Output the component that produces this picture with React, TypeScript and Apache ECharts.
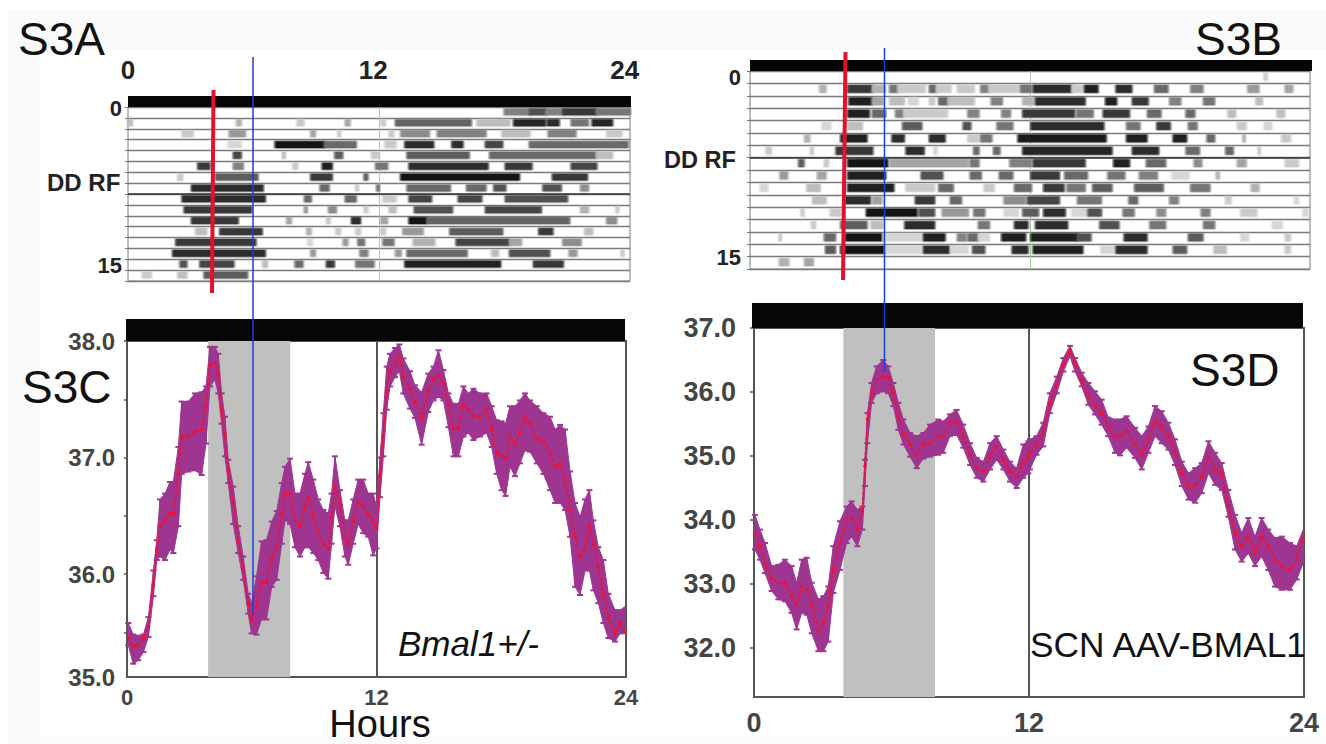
import React, { useEffect, useRef } from "react";
import * as echarts from "echarts";

// ---------- temperature traces (hour, mean, upper, lower) ----------
const hoursC = [0.06,0.30,0.54,0.79,1.03,1.27,1.43,1.59,1.83,2.07,2.23,2.47,2.63,2.95,3.27,3.59,3.80,3.99,4.23,4.39,4.55,4.71,4.87,5.11,5.35,5.59,5.83,5.99,6.23,6.47,6.71,6.96,7.20,7.44,7.60,7.84,8.08,8.32,8.56,8.72,8.96,9.20,9.44,9.68,9.84,10.0,10.24,10.48,10.64,10.88,11.12,11.36,11.60,11.84,12.0,12.17,12.33,12.49,12.65,12.89,13.10,13.29,13.61,13.85,14.17,14.49,14.74,14.98,15.22,15.46,15.70,15.94,16.18,16.42,16.66,16.98,17.30,17.54,17.78,18.02,18.21,18.42,18.66,18.90,19.14,19.38,19.71,20.03,20.35,20.59,20.83,21.07,21.31,21.55,21.79,22.03,22.24,22.43,22.67,22.91,23.15,23.47,23.71,23.95];
const meanC = [35.45,35.38,35.39,35.45,35.55,35.91,36.21,36.41,36.46,36.52,36.52,36.86,37.18,37.18,37.22,37.24,37.44,37.79,37.81,37.72,37.41,37.18,36.89,36.61,36.29,36.05,35.75,35.61,35.72,35.93,35.93,36.13,36.23,36.51,36.69,36.69,36.46,36.41,36.58,36.66,36.49,36.35,36.26,36.22,36.49,36.76,36.61,36.32,36.26,36.46,36.62,36.58,36.51,36.46,36.39,36.85,37.18,37.58,37.74,37.81,37.87,37.69,37.59,37.48,37.34,37.57,37.67,37.71,37.64,37.45,37.25,37.25,37.45,37.41,37.36,37.35,37.41,37.24,37.04,37.01,36.99,37.18,37.12,37.21,37.34,37.29,37.16,37.14,37.04,36.92,36.95,36.81,36.55,36.32,36.15,36.21,36.41,36.26,36.06,35.83,35.63,35.49,35.58,35.51];
const upperC = [35.58,35.48,35.47,35.48,35.63,36.03,36.29,36.64,36.69,36.79,36.79,37.09,37.48,37.48,37.55,37.56,37.61,37.95,37.95,37.89,37.55,37.35,36.98,36.75,36.41,36.15,35.83,35.75,35.98,36.28,36.29,36.45,36.54,36.78,36.92,36.99,36.69,36.69,36.86,36.96,36.81,36.64,36.55,36.52,36.69,37.01,36.72,36.46,36.46,36.64,36.81,36.81,36.69,36.69,36.58,37.0,37.38,37.78,37.89,37.94,37.97,37.85,37.74,37.62,37.56,37.72,37.78,37.92,37.75,37.55,37.46,37.46,37.61,37.55,37.59,37.55,37.55,37.44,37.32,37.31,37.29,37.44,37.44,37.49,37.55,37.49,37.44,37.38,37.35,37.24,37.28,37.24,36.88,36.61,36.49,36.64,36.72,36.46,36.23,36.12,35.83,35.69,35.69,35.72];
const lowerC = [35.39,35.23,35.26,35.33,35.46,35.81,36.12,36.15,36.12,36.21,36.18,36.41,36.86,36.88,36.89,36.85,37.12,37.61,37.67,37.55,37.29,37.01,36.78,36.43,36.18,35.95,35.66,35.49,35.48,35.61,35.61,35.89,35.95,36.26,36.46,36.43,36.23,36.15,36.23,36.23,36.18,36.12,36.01,35.96,36.26,36.58,36.41,36.15,36.08,36.26,36.43,36.35,36.32,36.16,36.22,36.66,37.01,37.41,37.61,37.69,37.74,37.55,37.42,37.34,37.11,37.39,37.49,37.52,37.49,37.26,37.01,37.01,37.18,37.21,37.15,37.18,37.21,37.09,36.86,36.72,36.67,36.92,36.84,36.95,37.06,37.05,36.95,36.86,36.72,36.61,36.61,36.55,36.32,35.89,35.82,36.03,36.03,35.86,35.75,35.58,35.45,35.42,35.49,35.49];

const hoursD = [0.04,0.26,0.48,0.77,1.06,1.35,1.64,1.86,2.08,2.30,2.52,2.81,3.03,3.24,3.46,3.75,4.04,4.26,4.51,4.73,4.84,4.95,5.13,5.35,5.64,5.86,6.08,6.30,6.52,6.81,7.10,7.39,7.68,8.04,8.26,8.55,8.84,9.13,9.43,9.72,10.01,10.30,10.59,10.88,11.17,11.46,11.75,11.97,12.04,12.33,12.62,12.91,13.21,13.50,13.79,14.01,14.30,14.59,14.88,15.17,15.46,15.75,15.97,16.26,16.63,16.92,17.21,17.50,17.79,18.08,18.37,18.67,18.96,19.25,19.54,19.83,20.12,20.41,20.70,20.99,21.28,21.57,21.86,22.15,22.44,22.73,23.03,23.39,23.68,23.97];
const meanD = [33.80,33.59,33.33,33.09,33.02,33.02,32.81,32.68,32.96,32.91,32.68,32.26,32.39,32.65,33.22,33.64,34.00,34.03,33.85,34.14,34.84,35.57,35.98,36.19,36.24,36.22,35.98,35.62,35.36,35.18,35.02,35.18,35.20,35.31,35.31,35.52,35.54,35.31,35.02,34.81,34.76,34.99,35.15,34.94,34.76,34.68,34.89,34.99,35.05,35.18,35.33,35.83,36.11,36.43,36.65,36.45,36.17,35.93,35.80,35.67,35.46,35.30,35.31,35.39,35.18,35.02,35.26,35.54,35.46,35.31,35.07,34.73,34.50,34.55,34.68,34.99,34.79,34.73,34.21,33.80,33.59,33.74,33.48,33.74,33.59,33.38,33.28,33.22,33.38,33.72];
const upperD = [34.08,33.85,33.64,33.28,33.30,33.38,33.28,33.02,33.38,33.41,33.02,32.76,32.81,32.96,33.59,33.98,34.21,34.29,34.16,34.21,34.94,35.67,36.14,36.40,36.50,36.40,36.14,35.83,35.57,35.36,35.31,35.36,35.49,35.57,35.54,35.65,35.72,35.49,35.20,34.97,34.91,35.20,35.31,35.10,34.91,34.81,35.18,35.23,35.26,35.31,35.52,35.98,36.24,36.53,36.72,36.53,36.30,36.14,36.01,35.88,35.60,35.57,35.57,35.62,35.44,35.31,35.46,35.78,35.70,35.52,35.26,34.91,34.73,34.81,34.89,35.23,35.05,34.89,34.47,34.08,33.80,34.03,33.74,34.03,33.85,33.72,33.74,33.64,33.59,33.85];
const lowerD = [33.54,33.38,33.17,32.89,32.76,32.73,32.55,32.29,32.55,32.52,32.23,31.95,31.95,32.10,32.86,33.22,33.64,33.74,33.59,33.85,34.53,35.20,35.83,35.98,36.01,35.98,35.78,35.41,35.18,34.99,34.81,34.96,34.99,35.02,35.05,35.31,35.33,35.13,34.86,34.66,34.60,34.79,34.94,34.79,34.60,34.50,34.66,34.73,34.79,35.02,35.15,35.67,35.98,36.32,36.56,36.32,36.09,35.80,35.65,35.49,35.31,35.05,35.01,35.13,34.97,34.79,35.05,35.31,35.20,35.10,34.86,34.53,34.32,34.27,34.42,34.73,34.55,34.47,34.05,33.54,33.35,33.48,33.28,33.43,33.22,32.96,32.91,32.91,33.07,33.33];

// ---------- actogram bouts: per row, [start hour, end hour, darkness] ----------
const actoA: number[][][] = [
  [[18,19.2,.5],[19.2,20,.7],[20,20.8,.5],[20.8,22.4,.8],[22.4,24,.55]],
  [[0,.2,.25],[5.2,5.4,.3],[8.1,8.4,.2],[10.4,10.6,.35],[12.1,12.3,.2],[12.8,16.4,.62],[16.7,18.25,.25],[18.45,19.95,.88],[20.05,20.6,.85],[21.2,22,.55],[22.2,23.15,.88]],
  [[2.6,3.1,.2],[4.85,5.6,.4],[8.75,8.95,.35],[10.05,10.15,.2],[12.5,12.7,.2],[13.05,14.4,.45],[14.8,17.1,.5],[17.9,19.2,.25],[20.1,21.4,.5],[22.9,23.6,.2]],
  [[4.8,5.4,.15],[7.05,9.4,.95],[9.4,10.9,.6],[12.3,12.8,.2],[13.25,14.6,.85],[15.5,16,.85],[17.1,17.9,.75],[19.2,23.9,.6]],
  [[5.05,5.4,.75],[7.4,7.5,.25],[9.9,10.25,.65],[11.65,12,.2],[13.35,16.3,.65],[17.3,22.4,.6],[22.4,23.15,.25]],
  [[3.35,3.9,.8],[5.05,5.5,.5],[7.9,8.1,.2],[9.3,9.75,.9],[11.85,12.4,.55],[13.45,17.2,.85],[18.05,19.3,.8],[21.2,22.4,.75]],
  [[2.4,2.6,.2],[4.2,6.2,.65],[8.75,9.75,.8],[11.3,11.45,.65],[13.05,18.7,.95],[20.3,21.95,.8]],
  [[3.05,6.45,.85],[9.2,9.6,.6],[10.9,11,.2],[11.9,12,.55],[13.35,15.4,.6],[16.2,17.1,.6],[17.5,18.05,.7],[19.85,20.7,.7],[21.65,22,.45]],
  [[2.6,6.55,.85],[8.45,8.75,.6],[10.4,10.9,.6],[12.2,12.8,.2],[13.45,14.5,.75],[15.8,16.9,.75],[18.05,21,.7]],
  [[2.7,5.9,.8],[8.45,8.55,.4],[9.6,9.95,.45],[11.3,11.45,.2],[12.5,12.8,.25],[13.7,15.5,.7],[17.1,19.75,.75],[21.65,22,.3],[23.35,23.45,.2]],
  [[3.05,5.25,.8],[7.6,7.8,.35],[9.5,9.65,.2],[10.7,11.1,.85],[12.1,12.4,.35],[13.45,14.3,.95],[14.3,21.1,.62],[22.9,23.35,.45]],
  [[3.25,3.75,.25],[4.4,6.4,.8],[8.55,8.75,.3],[9.95,10.15,.2],[10.9,11.1,.2],[12.1,12.3,.2],[13.15,14.1,.4],[15.4,17.9,.65],[19.65,20.3,.8],[21.85,22.2,.25]],
  [[2.3,6.1,.8],[8.6,8.8,.15],[10.3,10.5,.4],[11,11.3,.55],[12.2,12.7,.55],[13.65,14.65,.3],[15.7,18.25,.75],[18.25,18.8,.35],[20.8,21.65,.45]],
  [[2.15,6.55,.85],[8.75,8.95,.4],[11.1,11.45,.5],[12.8,13.05,.4],[13.35,16.2,.6],[17.4,17.7,.25],[18.25,20.15,.7],[21.1,21.45,.4],[23.6,23.7,.2]],
  [[2.5,2.8,.7],[3.45,5.05,.75],[6.45,6.65,.25],[8,8.35,.6],[9.5,9.85,.8],[10.9,11.75,.55],[13.25,17.8,.9],[19.4,20.8,.8]],
  [[.7,1.1,.2],[2.4,2.8,.25],[3.65,5.7,.65]],
];
const actoB: number[][][] = [
  [[22.05,22.15,.2]],
  [[3,3.25,.3],[4.2,5.25,.8],[5.25,5.8,.3],[6,6.35,.55],[6.35,7.5,.2],[7.7,8,.6],[8,8.6,.2],[8.9,9.6,.2],[9.9,10.25,.5],[10.25,11.5,.2],[11.6,12.05,.55],[12.15,13.8,.85],[13.8,14.25,.2],[14.35,14.9,.9],[15.7,16.35,.85],[17.35,17.9,.6],[18.9,19.4,.5],[21.35,21.8,.4],[22.95,23.25,.35]],
  [[4.25,5.25,.9],[5.25,5.7,.35],[6,6.6,.25],[6.8,7.2,.15],[7.7,7.9,.2],[8.1,8.5,.6],[8.5,9.6,.25],[10.35,10.8,.5],[11.7,12.15,.3],[12.25,14.35,.85],[15.25,15.7,.9],[16.4,17.05,.8],[18,18.45,.5],[19.45,19.9,.55],[21.7,21.95,.25]],
  [[4.2,5.1,.9],[5.25,5.8,.6],[6.25,6.6,.5],[6.6,8.45,.2],[9.35,9.8,.5],[10.8,11.15,.5],[11.7,13.9,.8],[14,14.7,.55],[15.15,16.25,.8],[17.05,17.6,.6],[18.7,19.05,.6],[20.5,20.8,.25],[22.6,22.9,.25]],
  [[3.1,3.45,.15],[4.2,4.8,.25],[6.55,7.35,.65],[9.15,9.45,.7],[10.6,11.25,.55],[12.05,15.15,.85],[16.15,16.7,.55],[17.45,18,.8],[18.8,19.15,.55],[20.9,21.25,.2],[22.05,22.35,.15]],
  [[2.35,2.55,.3],[3.9,5,.9],[6.1,6.6,.85],[7.7,8.35,.85],[9.35,9.8,.2],[9.9,10.35,.55],[11.5,15.25,.92],[16.15,17,.9],[18.15,18.7,.9],[19.6,19.9,.6],[21.15,21.2,.3],[22.8,23.15,.2]],
  [[.7,.9,.2],[2.6,2.7,.2],[3.7,5.25,.8],[6.7,7.45,.85],[7.9,8,.15],[9.6,9.8,.6],[10.45,10.7,.6],[11.7,15.5,.88],[16.4,17.5,.85],[18.7,19.25,.6],[20.4,20.7,.6],[21.8,21.85,.2]],
  [[2.1,2.3,.65],[3.2,3.35,.2],[4.2,5.9,.95],[6,9.35,.35],[9.45,9.8,.55],[11.15,12.05,.5],[12.15,14.35,.8],[15.6,16.25,.9],[17,17.8,.6],[19.05,19.35,.45],[20.9,21.25,.35],[22.95,23.5,.2]],
  [[1.3,1.6,.4],[2.9,3.25,.35],[4.2,5.8,.9],[7.35,8.25,.7],[9.45,9.9,.6],[10.7,11.25,.6],[12.05,13.25,.8],[13.5,14.45,.6],[15.35,16.05,.55],[16.7,17.45,.5],[18.1,18.8,.15],[20,20.1,.3]],
  [[.45,.75,.15],[2.45,3,.25],[4.2,6.15,.9],[6.7,7.9,.2],[8.1,8.7,.6],[10.05,10.45,.2],[11.35,12.05,.6],[12.6,13.45,.8],[13.6,14.35,.55],[14.7,15.5,.65],[16.5,17.7,.65],[18.9,19.7,.55],[21.5,21.8,.3]],
  [[2.7,3.25,.25],[4.1,5.15,.85],[5.25,5.65,.35],[7.1,7.9,.8],[8.6,9.05,.6],[10.9,11.8,.45],[11.9,13.25,.75],[14.05,15.05,.55],[16.25,16.6,.6],[18,18.35,.5],[20.4,20.6,.2],[23.35,23.5,.15]],
  [[2.2,2.3,.2],[3.45,3.9,.2],[5,7.15,.95],[7.25,7.9,.7],[8.25,9.35,.4],[9.6,10.05,.55],[10.9,11.5,.15],[11.7,12.35,.65],[12.6,13.5,.85],[13.8,14.45,.15],[14.5,15.05,.7],[16,16.45,.55],[17.45,17.8,.45],[19.35,19.7,.5],[21.05,21.7,.2],[23.7,23.9,.15]],
  [[2.65,2.8,.2],[3.9,5,.65],[5.2,5.7,.25],[6.65,7.9,.85],[9.8,10.25,.55],[11.35,11.9,.85],[12.25,13.6,.85],[15,15.8,.7],[17.15,17.8,.55],[19.45,19.9,.55],[22.4,22.8,.15]],
  [[1.27,1.32,.2],[3.2,3.65,.6],[4.1,5.7,.95],[5.7,7.35,.15],[7.45,8.35,.9],[8.9,9.25,.5],[9.35,9.8,.6],[9.8,10.25,.15],[10.8,11.8,.9],[12.05,14.05,.9],[14.05,14.6,.7],[16.05,17,.85],[18.8,19.4,.65],[21.05,21.35,.15],[22.95,23.15,.2]],
  [[3.25,3.65,.65],[3.9,5.8,.95],[5.8,7.35,.15],[7.45,8.55,.85],[8.6,9.35,.15],[9.55,10.05,.7],[11.25,11.9,.85],[12.15,14.25,.9],[15.05,15.6,.15],[15.7,17,.85],[18.15,18.7,.65],[19.9,20.4,.25],[22.95,23.15,.2]],
  [[1.27,1.65,.3],[2.35,2.7,.35]],
];

// ---------- axis labels and annotations ----------
const hourTicks = [0, 12, 24];
const topLabelValuesA = [0, 11.72, 23.75];
const rowLabelValuesA = [0.1, 14.6];
const rowLabelValuesB = [0.55, 15.05];
const rowLabels = ["0", "15"];
const yTicksC = [35.5, 36, 36.5, 37, 37.5, 38];
const yLabelValuesC = [35.116, 36, 37, 38];
const yLabelsC = ["35.0", "36.0", "37.0", "38.0"];
const yLabelValuesD = [32, 33, 34, 35, 36, 37];
const feedingC = [3.9, 7.85];
const feedingD = [3.9, 7.9];
const boldRowA = 8;
const boldRowB = 7;

const FONT = "Liberation Sans";
const PURPLE = "#9e3590";
const RED = "#f70f2a";

function App() {
  const ref = useRef<HTMLDivElement>(null);
  useEffect(() => {
    document.body.style.margin = "0";
    document.body.style.overflow = "hidden";
    const chart = echarts.init(ref.current!, null, { renderer: "svg" });

    const actoSeries = (rows: number[][][], idx: number, boldRow: number) => ({
      type: "custom",
      xAxisIndex: idx,
      yAxisIndex: idx,
      silent: true,
      z: 3,
      encode: { x: [1, 2], y: 0 },
      data: rows.flatMap((bouts, r) => bouts.map((b) => [r, b[0], b[1], b[2]])),
      renderItem: (_p: any, api: any) => {
        const r = api.value(0);
        const a = api.coord([api.value(1), r + 0.14]);
        const b = api.coord([api.value(2), r + 0.76]);
        const g = Math.round(255 * (1 - api.value(3)) * 0.95 + 8);
        const x = a[0] - 2.5;
        const w = b[0] - a[0] + 5;
        const e = Math.min(0.45, 3.5 / w);
        const fill = (al: number) => ({
          type: "linear", x: 0, y: 0, x2: 1, y2: 0,
          colorStops: [
            { offset: 0, color: `rgba(${g},${g},${g},0)` },
            { offset: e, color: `rgba(${g},${g},${g},${al})` },
            { offset: 1 - e, color: `rgba(${g},${g},${g},${al})` },
            { offset: 1, color: `rgba(${g},${g},${g},0)` },
          ],
        });
        return {
          type: "group",
          children: [
            { type: "rect", shape: { x, y: a[1] - 1, width: w, height: b[1] - a[1] + 2 }, style: { fill: fill(0.4) } },
            { type: "rect", shape: { x, y: a[1], width: w, height: b[1] - a[1] }, style: { fill: fill(1) } },
          ],
        };
      },
      markLine: {
        silent: true, symbol: "none", label: { show: false },
        lineStyle: { color: "#333", width: 1.5, type: "solid" },
        data: [{ yAxis: boldRow }],
      },
    });

    const feedingSeries = (range: number[], idx: number) => ({
      type: "custom",
      xAxisIndex: idx,
      yAxisIndex: idx,
      silent: true,
      z: 1,
      encode: { x: [0, 1] },
      data: [range],
      renderItem: (p: any, api: any) => {
        const a = api.coord([api.value(0), 0]);
        const b = api.coord([api.value(1), 0]);
        return {
          type: "rect",
          shape: { x: a[0], y: p.coordSys.y, width: b[0] - a[0], height: p.coordSys.height },
          style: { fill: "#c0c0c0" },
        };
      },
    });

    const bandSeries = (hours: number[], hi: number[], lo: number[], idx: number) => ({
      type: "custom",
      xAxisIndex: idx,
      yAxisIndex: idx,
      silent: true,
      z: 3,
      encode: { x: [0, 3], y: [1, 2, 4, 5] },
      data: hours.slice(0, -1).map((h, i) => [h, lo[i], hi[i], hours[i + 1], lo[i + 1], hi[i + 1]]),
      renderItem: (_p: any, api: any) => {
        const p1 = api.coord([api.value(0), api.value(1)]);
        const p2 = api.coord([api.value(0), api.value(2)]);
        const p3 = api.coord([api.value(3), api.value(5)]);
        const p4 = api.coord([api.value(3), api.value(4)]);
        const cap = (pt: number[]) => ({
          type: "line",
          shape: { x1: pt[0] - 3, y1: pt[1], x2: pt[0] + 3, y2: pt[1] },
          style: { stroke: PURPLE, lineWidth: 2 },
        });
        return {
          type: "group",
          children: [
            { type: "polygon", shape: { points: [p1, p2, p3, p4] }, style: { fill: PURPLE, stroke: PURPLE, lineWidth: 1 } },
            cap(p1),
            cap(p2),
          ],
        };
      },
    });

    const meanSeries = (hours: number[], mean: number[], idx: number) => ({
      type: "line",
      xAxisIndex: idx,
      yAxisIndex: idx,
      silent: true,
      z: 5,
      data: hours.map((h, i) => [h, mean[i]]),
      symbol: "circle",
      symbolSize: 3.5,
      showAllSymbol: true,
      itemStyle: { color: RED },
      lineStyle: { color: RED, width: 1.6, type: [3, 2] },
    });

    const baseX = (idx: number) => ({
      type: "value", gridIndex: idx, min: 0, max: 24, interval: 12,
    });

    const actoX = (idx: number, extra: any) => ({
      ...baseX(idx),
      axisLine: { show: false },
      axisTick: { show: false },
      splitLine: { show: true, showMinLine: false, showMaxLine: false, lineStyle: { color: "#a6cf9e", width: 1 } },
      ...extra,
    });
    const actoY = (idx: number, values: number[], margin: number) => ({
      type: "value", gridIndex: idx, min: 0, max: 16, interval: 1, inverse: true,
      axisLine: { show: false },
      axisTick: { show: true, length: 3, lineStyle: { color: "#777" } },
      splitLine: { show: true, lineStyle: { color: "#7a7a7a", width: 1.4 } },
      axisLabel: {
        customValues: values, margin, fontFamily: FONT, fontWeight: "bold", fontSize: 22, color: "#222",
        formatter: (v: number) => (v < 8 ? rowLabels[0] : rowLabels[1]),
      },
    });
    const traceX = (idx: number, fontSize: number, margin: number) => ({
      ...baseX(idx),
      axisLine: { show: true, lineStyle: { color: "#555", width: 2 } },
      axisTick: { show: false },
      splitLine: { show: true, showMinLine: false, showMaxLine: false, lineStyle: { color: "#555", width: 2 } },
      axisLabel: {
        margin, fontFamily: FONT, fontWeight: "bold", fontSize, color: "#444", showMinLabel: true, showMaxLabel: true,
      },
    });

    const text = (t: string, x: number, y: number, fontSize: number, extra: any = {}) => ({
      type: "text", x, y, z: 50,
      style: { text: t, fontFamily: FONT, fontSize, fill: "#111", textAlign: "left", textVerticalAlign: "middle", ...extra },
    });
    const vline = (x1: number, y1: number, x2: number, y2: number, stroke: string, lineWidth: number) => ({
      type: "line", z: 60, shape: { x1, y1, x2, y2 }, style: { stroke, lineWidth },
    });
    const bar = (x: number, y: number, width: number, height: number) => ({
      type: "rect", z: 40, shape: { x, y, width, height }, style: { fill: "#060606" },
    });

    chart.setOption({
      animation: false,
      backgroundColor: "#ffffff",
      grid: [
        { left: 128, top: 107, width: 502, height: 174, show: true, borderColor: "#7a7a7a", borderWidth: 1 },
        { left: 750, top: 71, width: 560, height: 198, show: true, borderColor: "#7a7a7a", borderWidth: 1 },
        { left: 127, top: 341, width: 499, height: 336, show: true, borderColor: "#555", borderWidth: 2 },
        { left: 754, top: 328, width: 550, height: 369, show: true, borderColor: "#555", borderWidth: 2 },
      ],
      xAxis: [
        actoX(0, {
          position: "top",
          axisLabel: {
            customValues: topLabelValuesA, margin: 24, fontFamily: FONT, fontWeight: "bold", fontSize: 26, color: "#222",
            formatter: (v: number) => String(hourTicks[Math.round(v / 12)]),
          },
        }),
        actoX(1, { axisLabel: { show: false } }),
        traceX(2, 22, 9),
        traceX(3, 27, 12),
      ],
      yAxis: [
        actoY(0, rowLabelValuesA, 6),
        actoY(1, rowLabelValuesB, 9),
        {
          type: "value", gridIndex: 2, min: 35.116, max: 38,
          axisLine: { show: false }, splitLine: { show: false },
          axisTick: { show: true, length: 3, customValues: yTicksC, lineStyle: { color: "#555", width: 1.5 } },
          axisLabel: {
            customValues: yLabelValuesC, margin: 12, fontFamily: FONT, fontWeight: "bold", fontSize: 24, color: "#444",
            formatter: (v: number) => yLabelsC[yLabelValuesC.indexOf(v)],
          },
        },
        {
          type: "value", gridIndex: 3, min: 31.234, max: 37,
          axisLine: { show: false }, splitLine: { show: false },
          axisTick: { show: true, length: 4, customValues: yLabelValuesD, lineStyle: { color: "#555", width: 1.5 } },
          axisLabel: {
            customValues: yLabelValuesD, margin: 18, fontFamily: FONT, fontWeight: "bold", fontSize: 27, color: "#444",
            formatter: (v: number) => v.toFixed(1),
          },
        },
      ],
      series: [
        actoSeries(actoA, 0, boldRowA),
        actoSeries(actoB, 1, boldRowB),
        feedingSeries(feedingC, 2),
        feedingSeries(feedingD, 3),
        bandSeries(hoursC, upperC, lowerC, 2),
        bandSeries(hoursD, upperD, lowerD, 3),
        meanSeries(hoursC, meanC, 2),
        meanSeries(hoursD, meanD, 3),
      ],
      graphic: [
        { type: "rect", z: -10, shape: { x: 8, y: 10, width: 1318, height: 734 }, style: { fill: "#fafafa" } },
        { type: "rect", z: -9, shape: { x: 40, y: 50, width: 1286, height: 687 }, style: { fill: "#ffffff" } },
        bar(128, 96, 503, 11),
        bar(750, 60, 562, 11),
        bar(126, 319, 499, 22),
        bar(752, 303, 551, 25),
        vline(213.5, 90, 212, 293, "#e2122c", 4),
        vline(845.5, 52, 843, 280, "#e2122c", 4),
        vline(253, 57, 253, 615, "#1c3fd8", 1.5),
        vline(884.5, 48, 884.5, 372, "#1c3fd8", 1.5),
        text("S3A", 18, 39, 46),
        text("S3B", 1195, 39, 46),
        text("S3C", 22, 387, 46),
        text("S3D", 1190, 370, 46),
        text("DD RF", 47, 182, 24, { fontWeight: "bold", fill: "#222" }),
        text("DD RF", 664, 160, 23.5, { fontWeight: "bold", fill: "#222" }),
        text("Hours", 380, 724, 38, { textAlign: "center" }),
        text("Bmal1+/-", 398, 643, 35, { fontStyle: "italic" }),
        text("SCN AAV-BMAL1", 1030, 644, 35.3),
      ],
    });
    return () => chart.dispose();
  }, []);
  return <div ref={ref} style={{ position: "absolute", left: 0, top: 0, width: 1326, height: 744 }} />;
}

export default App;
